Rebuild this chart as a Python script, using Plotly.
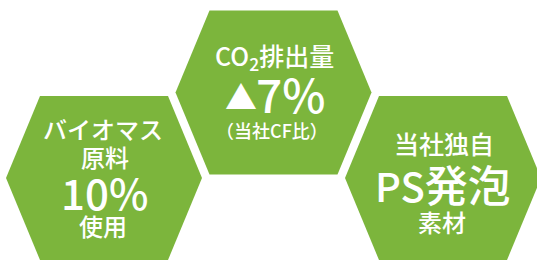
import plotly.graph_objects as go

# ---- content ----
hex_names = ["biomass", "co2", "ps"]
hex_centers_x = [104, 273.5, 443]
hex_centers_y = [178, 92.5, 178]

left_lines = ["バイオマス", "原料", "10%", "使用"]
mid_lines = ["CO<sub>2</sub>排出量", "▲", "7%", "（当社CF比）"]
right_lines = ["当社独自", "PS発泡", "素材"]

# ---- style ----
GREEN = "#7cb53c"
FONT = "Noto Sans CJK JP"
HALF_W = 98
HALF_TOP = 64
HALF_H = 82

fig = go.Figure()

shapes = []
for cx, cy in zip(hex_centers_x, hex_centers_y):
    pts = [
        (cx - HALF_TOP, cy - HALF_H),
        (cx + HALF_TOP, cy - HALF_H),
        (cx + HALF_W, cy),
        (cx + HALF_TOP, cy + HALF_H),
        (cx - HALF_TOP, cy + HALF_H),
        (cx - HALF_W, cy),
    ]
    path = "M " + " L ".join(f"{x},{y}" for x, y in pts) + " Z"
    shapes.append(dict(type="path", path=path, xref="x", yref="y",
                       fillcolor=GREEN, line=dict(width=0), layer="below"))

def ann(text, x, y, size):
    return dict(text=text, x=x, y=y, xref="x", yref="y", showarrow=False,
                font=dict(family=FONT, size=size, color="white", weight=500),
                xanchor="center", yanchor="middle")

annotations = [
    ann(left_lines[0], 103, 128, 24),
    ann(left_lines[1], 105, 156, 24),
    ann(left_lines[2], 104, 191, 42),
    ann(left_lines[3], 103, 225, 24),
    ann(mid_lines[0], 274, 56, 25),
    ann(mid_lines[1], 241, 95, 32),
    ann(mid_lines[2], 290, 93, 46),
    ann(mid_lines[3], 272, 130, 18),
    ann(right_lines[0], 444, 143, 25),
    ann("<span style='font-size:40px'>PS</span>発泡", 443, 183, 43),
    ann(right_lines[2], 442, 221, 24),
]

# invisible anchor trace so axes exist
fig.add_trace(go.Scatter(x=hex_centers_x, y=hex_centers_y, mode="markers",
                         marker=dict(opacity=0), hoverinfo="skip", showlegend=False))

fig.update_layout(
    width=537, height=261,
    margin=dict(l=0, r=0, t=0, b=0),
    paper_bgcolor="white", plot_bgcolor="white",
    shapes=shapes, annotations=annotations,
    xaxis=dict(range=[0, 537], visible=False, fixedrange=True),
    yaxis=dict(range=[261, 0], visible=False, fixedrange=True),
    showlegend=False,
)

fig.write_html("out.html", config={"displayModeBar": False},
               post_script="document.body.style.margin='0';document.body.style.overflow='hidden';")
